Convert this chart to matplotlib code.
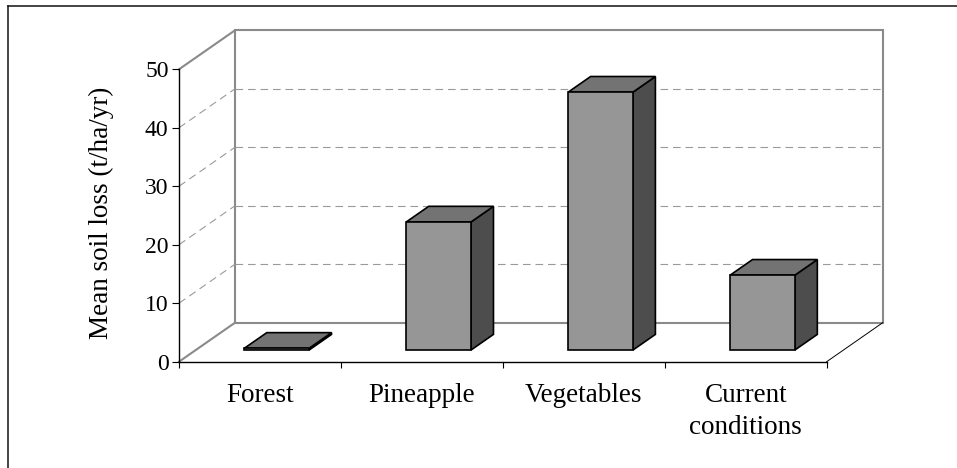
import matplotlib
matplotlib.use("Agg")
import matplotlib.pyplot as plt
from matplotlib.patches import Polygon
from matplotlib.lines import Line2D
from matplotlib.transforms import IdentityTransform

plt.rcParams['font.family'] = ['Liberation Serif', 'DejaVu Serif']
plt.rcParams['lines.scale_dashes'] = False

# Data
categories = ["Forest", "Pineapple", "Vegetables", "Current\nconditions"]
soil_loss = [0.3, 21.9, 44.1, 12.8]          # t/ha/yr
value_ticks = [0, 10, 20, 30, 40, 50]

# Figure / plot geometry (pixels)
W, H, DPI = 957, 468, 100
fig = plt.figure(figsize=(W / DPI, H / DPI), dpi=DPI)
front_left, front_right = 179, 826.7
front_top, front_bottom = 69.3, 361.7
ax = fig.add_axes([front_left / W, 1 - front_bottom / H,
                   (front_right - front_left) / W, (front_bottom - front_top) / H])
ax.set_xlim(0, len(categories))
ax.set_ylim(value_ticks[0], value_ticks[-1])
ax.set_autoscale_on(False)
ax.patch.set_visible(False)

DEPTH = (56.0, 39.0)        # display offset of the back wall
BAR_D0, BAR_D1 = 0.3, 0.7   # bar depth span
BAR_W = 0.4                 # bar width in category units

WALL = '#8a8a8a'
GRID = '#9a9a9a'
FRONT_C, TOP_C, SIDE_C = '#969696', '#737373', '#4d4d4d'


def proj(x, v, d):
    px, py = ax.transData.transform((x, v))
    return (px + d * DEPTH[0], py + d * DEPTH[1])


def add_poly(pts, **kw):
    p = Polygon(pts, closed=True, transform=IdentityTransform(), clip_on=False, **kw)
    ax.add_artist(p)
    return p


def add_line(p0, p1, **kw):
    ln = Line2D([p0[0], p1[0]], [p0[1], p1[1]], transform=IdentityTransform(),
                clip_on=False, **kw)
    ax.add_artist(ln)
    return ln


xmax = len(categories)
vmin, vmax = value_ticks[0], value_ticks[-1]

# Back wall outline
add_poly([proj(0, vmin, 1), proj(xmax, vmin, 1), proj(xmax, vmax, 1), proj(0, vmax, 1)],
         fill=False, edgecolor=WALL, linewidth=1.5, zorder=1)

# Gridlines on back wall and left wall
for v in value_ticks[1:-1]:
    add_line(proj(0, v, 1), proj(xmax, v, 1), color=GRID, linewidth=0.8,
             dashes=(5.5, 3.5), zorder=1)
    add_line(proj(0, v, 0), proj(0, v, 1), color=GRID, linewidth=0.8,
             dashes=(5.5, 3.5), zorder=1)

# Left wall top/bottom edges
add_line(proj(0, vmax, 0), proj(0, vmax, 1), color=WALL, linewidth=1.5, zorder=1)
add_line(proj(0, vmin, 0), proj(0, vmin, 1), color=WALL, linewidth=1.5, zorder=1)
# Floor right edge
add_line(proj(xmax, vmin, 0), proj(xmax, vmin, 1), color='black', linewidth=0.7, zorder=1)

# 3D bars
for i, v in enumerate(soil_loss):
    xl = i + (1 - BAR_W) / 2
    xr = xl + BAR_W
    front = [proj(xl, 0, BAR_D0), proj(xr, 0, BAR_D0), proj(xr, v, BAR_D0), proj(xl, v, BAR_D0)]
    top = [proj(xl, v, BAR_D0), proj(xr, v, BAR_D0), proj(xr, v, BAR_D1), proj(xl, v, BAR_D1)]
    side = [proj(xr, 0, BAR_D0), proj(xr, 0, BAR_D1), proj(xr, v, BAR_D1), proj(xr, v, BAR_D0)]
    for pts, c in ((side, SIDE_C), (top, TOP_C), (front, FRONT_C)):
        add_poly(pts, facecolor=c, edgecolor='black', linewidth=1.2,
                 joinstyle='miter', zorder=3)

# Front axes
for s in ('top', 'right'):
    ax.spines[s].set_visible(False)
for s in ('left', 'bottom'):
    ax.spines[s].set_color('black')
    ax.spines[s].set_linewidth(1.0)
    ax.spines[s].set_zorder(4)

ax.set_yticks(value_ticks)
ax.set_yticklabels([str(t) for t in value_ticks])
ax.tick_params(axis='y', direction='out', length=5, width=0.8, pad=2.5,
               labelsize=17, colors='black')

ax.set_xticks(range(len(categories) + 1))
ax.set_xticklabels([])
ax.tick_params(axis='x', which='major', direction='out', length=4.3, width=0.8)
ax.set_xticks([i + 0.5 for i in range(len(categories))], minor=True)
ax.set_xticklabels(categories, minor=True, fontsize=19.5, linespacing=1.35)
ax.tick_params(axis='x', which='minor', length=0, pad=15.5)

fig.text(101 / W, 1 - 213 / H, "Mean soil loss (t/ha/yr)", rotation=90,
         ha='center', va='center', fontsize=19.5)

# Chart area border
fig.add_artist(Line2D([8.3 / W, 1.02], [1 - 5.7 / H, 1 - 5.7 / H],
                      transform=fig.transFigure, color='#111111', linewidth=1.1))
fig.add_artist(Line2D([8.3 / W, 8.3 / W], [1 - 5.7 / H, -0.02],
                      transform=fig.transFigure, color='#111111', linewidth=1.1))

fig.savefig("out.png", dpi=DPI)
